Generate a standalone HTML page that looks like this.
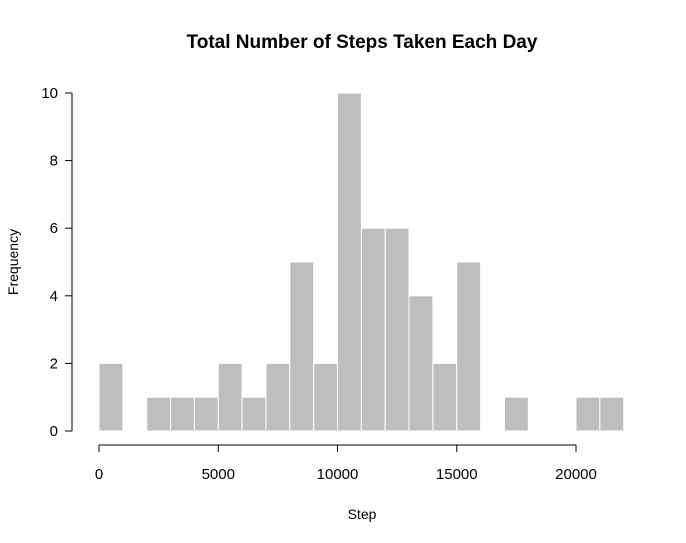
<!DOCTYPE html>
<html><head><meta charset="utf-8"><style>
body{margin:0;background:#fff}
svg{display:block;font-family:"Liberation Sans",Arial,sans-serif}
</style></head><body>
<svg id="chart" width="686" height="543">
<text x="362" y="48" text-anchor="middle" font-size="19" font-weight="bold">Total Number of Steps Taken Each Day</text>
<text x="362" y="519" text-anchor="middle" font-size="14">Step</text>
<text transform="translate(18,262) rotate(-90)" text-anchor="middle" font-size="14">Frequency</text>
<g id="bars"></g><g id="xaxis"></g><g id="yaxis"></g>
</svg>
<script>
const binStarts=[0,1000,2000,3000,4000,5000,6000,7000,8000,9000,10000,11000,12000,13000,14000,15000,16000,17000,18000,19000,20000,21000];
const binWidth=1000;
const counts=[2,0,1,1,1,2,1,2,5,2,10,6,6,4,2,5,0,1,0,0,1,1];
const xTicks=[0,5000,10000,15000,20000];
const yTicks=[0,2,4,6,8,10];
const NS="http://www.w3.org/2000/svg";
const X=v=>99+v*(576-99)/20000;
const Y=v=>431-v*(431-93)/10;
function mk(t,a,p){const e=document.createElementNS(NS,t);for(const k in a)e.setAttribute(k,a[k]);p.appendChild(e);return e;}
const bars=document.getElementById('bars');
counts.forEach((c,i)=>{if(c<=0)return;
const r=mk('rect',{x:X(binStarts[i]),y:Y(c),width:X(binStarts[i]+binWidth)-X(binStarts[i]),height:Y(0)-Y(c),fill:'#bebebe',stroke:'#fff','stroke-width':1},bars);

});
const xa=document.getElementById('xaxis');


mk('line',{x1:X(xTicks[0]),x2:X(xTicks[xTicks.length-1]),y1:445,y2:445,stroke:'#000'},xa);
xTicks.forEach(t=>{mk('line',{x1:X(t),x2:X(t),y1:445,y2:452,stroke:'#000'},xa);
const tx=mk('text',{x:X(t),y:479,'text-anchor':'middle','font-size':15},xa);tx.textContent=t;

});
const ya=document.getElementById('yaxis');


mk('line',{x1:72,x2:72,y1:Y(yTicks[0]),y2:Y(yTicks[yTicks.length-1]),stroke:'#000'},ya);
yTicks.forEach(t=>{mk('line',{x1:65,x2:72,y1:Y(t),y2:Y(t),stroke:'#000'},ya);
const tx=mk('text',{x:58,y:Y(t)+5,'text-anchor':'end','font-size':15},ya);tx.textContent=t;

});
</script>
</body></html>
